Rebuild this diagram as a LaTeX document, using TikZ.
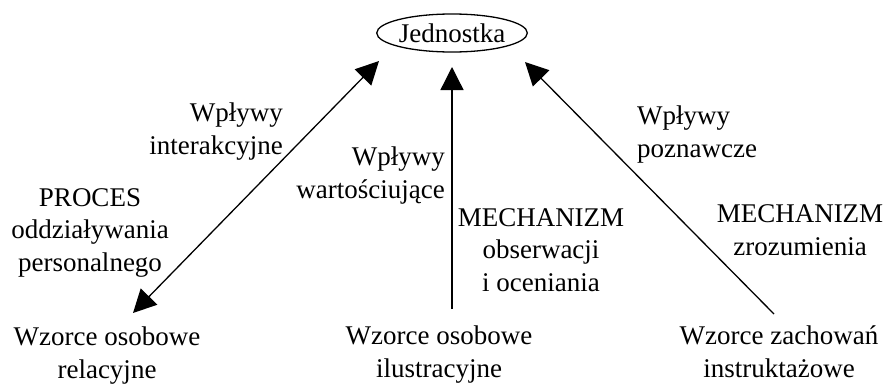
\documentclass[tikz,border=0pt]{standalone}
\usepackage{fontspec}
\setmainfont{Liberation Serif}
\usetikzlibrary{arrows.meta,shapes.geometric}
\tikzset{
  lbl/.style={inner sep=0pt, font=\fontsize{27}{32.5}\selectfont},
  conn/.style={line width=1.3pt, -{Triangle[length=23pt,width=23pt]}},
  dconn/.style={line width=1.3pt, {Triangle[length=23pt,width=23pt]}-{Triangle[length=23pt,width=23pt]}}
}
\begin{document}
\begin{tikzpicture}[x=1pt,y=-1pt]
\useasboundingbox (0,0) rectangle (886,383);
% top ellipse
\node[lbl, ellipse, draw, line width=1.3pt, minimum width=147pt, minimum height=38pt] (J) at (452,33) {Jednostka};
% bottom nodes (base = baseline of last line)
\node[lbl, align=center, anchor=base] (L1) at (107,378) {Wzorce osobowe\\relacyjne};
\node[lbl, align=center, anchor=base] (L2) at (439,377) {Wzorce osobowe\\ilustracyjne};
\node[lbl, align=center, anchor=base] (L3) at (779,377) {Wzorce zachowań\\instruktażowe};
% labels
\node[lbl, align=right, anchor=base east] (A) at (283,154) {Wpływy\\interakcyjne};
\node[lbl, align=center, anchor=base] (B) at (90,271) {PROCES\\oddziaływania\\personalnego};
\node[lbl, align=right, anchor=base east] (C) at (445,198) {Wpływy\\wartościujące};
\node[lbl, align=center, anchor=base] (D) at (541,291) {MECHANIZM\\obserwacji\\i oceniania};
\node[lbl, align=left, anchor=base west] (E) at (637,157) {Wpływy\\poznawcze};
\node[lbl, align=center, anchor=base] (F) at (800,255) {MECHANIZM\\zrozumienia};
% connector ends
\coordinate (a1) at (133,313);
\coordinate (a2) at (379,61);
\coordinate (b1) at (452,309);
\coordinate (b2) at (452,67);
\coordinate (c1) at (774,314);
\coordinate (c2) at (525,62);
\draw[dconn] (a1) -- (a2);
\draw[conn] (b1) -- (b2);
\draw[conn] (c1) -- (c2);
\end{tikzpicture}
\end{document}
